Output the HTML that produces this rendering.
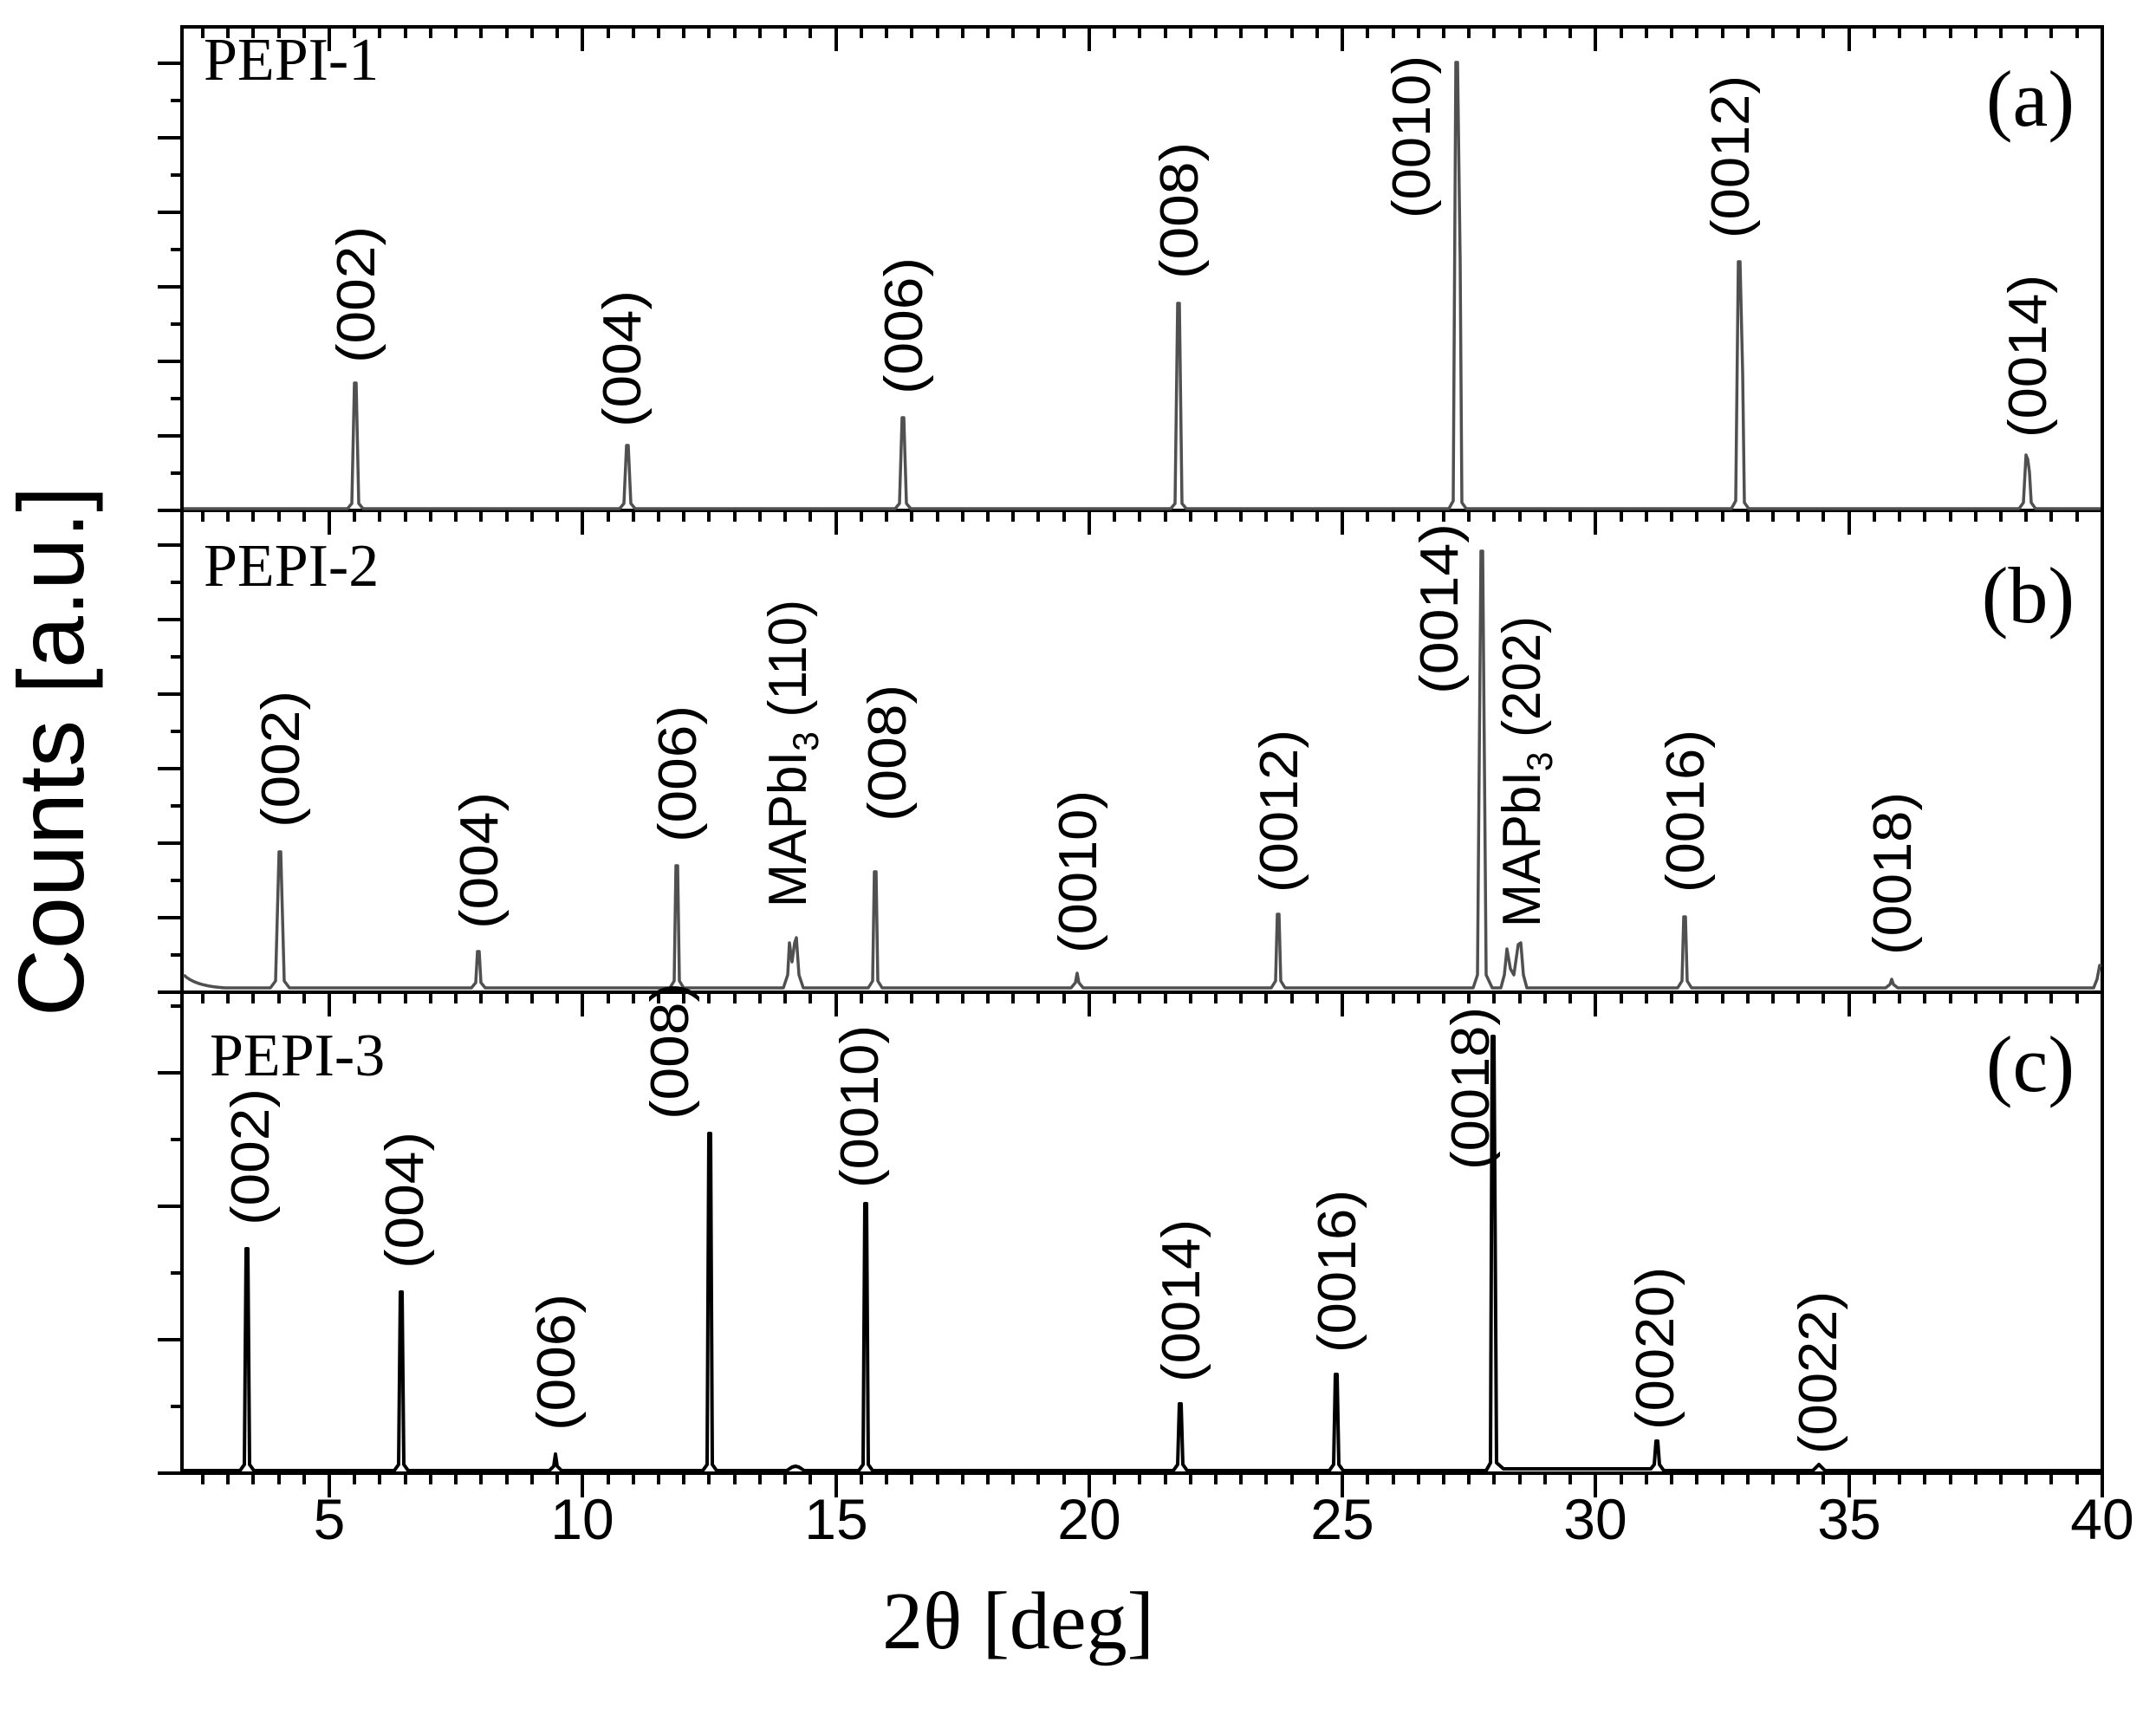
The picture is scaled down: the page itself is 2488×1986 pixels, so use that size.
<!DOCTYPE html>
<html><head><meta charset="utf-8"><style>
html,body{margin:0;padding:0;background:#fff}
svg{display:block}
.t{font-family:"Liberation Sans",Arial,sans-serif}
.s{font-family:"Liberation Serif","Times New Roman",serif}
</style></head><body>
<svg width="2488" height="1986" viewBox="0 0 2488 1986" xmlns="http://www.w3.org/2000/svg">
<rect width="2488" height="1986" fill="#fff"/>
<g stroke="#000" stroke-width="4" fill="none">
<rect x="210" y="31" width="2216" height="1669"/>
<line x1="210" y1="589" x2="2426" y2="589"/>
<line x1="210" y1="1145" x2="2426" y2="1145"/>
</g>
<g stroke="#000" stroke-width="4">
<path d="
M234,31v13M263,31v13M292,31v13M322,31v13M351,31v13M380,31v28M409,31v13M438,31v13M468,31v13M497,31v13M526,31v13M555,31v13M585,31v13M614,31v13M643,31v13M672,31v28M702,31v13M731,31v13M760,31v13M789,31v13M818,31v13M848,31v13M877,31v13M906,31v13M935,31v13M965,31v28M994,31v13M1023,31v13M1052,31v13M1082,31v13M1111,31v13M1140,31v13M1169,31v13M1198,31v13M1228,31v13M1257,31v28M1286,31v13M1315,31v13M1345,31v13M1374,31v13M1403,31v13M1432,31v13M1461,31v13M1491,31v13M1520,31v13M1549,31v28M1578,31v13M1608,31v13M1637,31v13M1666,31v13M1695,31v13M1724,31v13M1754,31v13M1783,31v13M1812,31v13M1841,31v28M1871,31v13M1900,31v13M1929,31v13M1958,31v13M1988,31v13M2017,31v13M2046,31v13M2075,31v13M2104,31v13M2134,31v28M2163,31v13M2192,31v13M2221,31v13M2251,31v13M2280,31v13M2309,31v13M2338,31v13M2367,31v13M2397,31v13
"/>
<path transform="translate(0,558)" d="
M234,31v13M263,31v13M292,31v13M322,31v13M351,31v13M380,31v28M409,31v13M438,31v13M468,31v13M497,31v13M526,31v13M555,31v13M585,31v13M614,31v13M643,31v13M672,31v28M702,31v13M731,31v13M760,31v13M789,31v13M818,31v13M848,31v13M877,31v13M906,31v13M935,31v13M965,31v28M994,31v13M1023,31v13M1052,31v13M1082,31v13M1111,31v13M1140,31v13M1169,31v13M1198,31v13M1228,31v13M1257,31v28M1286,31v13M1315,31v13M1345,31v13M1374,31v13M1403,31v13M1432,31v13M1461,31v13M1491,31v13M1520,31v13M1549,31v28M1578,31v13M1608,31v13M1637,31v13M1666,31v13M1695,31v13M1724,31v13M1754,31v13M1783,31v13M1812,31v13M1841,31v28M1871,31v13M1900,31v13M1929,31v13M1958,31v13M1988,31v13M2017,31v13M2046,31v13M2075,31v13M2104,31v13M2134,31v28M2163,31v13M2192,31v13M2221,31v13M2251,31v13M2280,31v13M2309,31v13M2338,31v13M2367,31v13M2397,31v13
"/>
<path transform="translate(0,1114)" d="
M234,31v13M263,31v13M292,31v13M322,31v13M351,31v13M380,31v28M409,31v13M438,31v13M468,31v13M497,31v13M526,31v13M555,31v13M585,31v13M614,31v13M643,31v13M672,31v28M702,31v13M731,31v13M760,31v13M789,31v13M818,31v13M848,31v13M877,31v13M906,31v13M935,31v13M965,31v28M994,31v13M1023,31v13M1052,31v13M1082,31v13M1111,31v13M1140,31v13M1169,31v13M1198,31v13M1228,31v13M1257,31v28M1286,31v13M1315,31v13M1345,31v13M1374,31v13M1403,31v13M1432,31v13M1461,31v13M1491,31v13M1520,31v13M1549,31v28M1578,31v13M1608,31v13M1637,31v13M1666,31v13M1695,31v13M1724,31v13M1754,31v13M1783,31v13M1812,31v13M1841,31v28M1871,31v13M1900,31v13M1929,31v13M1958,31v13M1988,31v13M2017,31v13M2046,31v13M2075,31v13M2104,31v13M2134,31v28M2163,31v13M2192,31v13M2221,31v13M2251,31v13M2280,31v13M2309,31v13M2338,31v13M2367,31v13M2397,31v13
"/>
<path transform="translate(0,1669)" d="
M234,31v13M263,31v13M292,31v13M322,31v13M351,31v13M380,31v28M409,31v13M438,31v13M468,31v13M497,31v13M526,31v13M555,31v13M585,31v13M614,31v13M643,31v13M672,31v28M702,31v13M731,31v13M760,31v13M789,31v13M818,31v13M848,31v13M877,31v13M906,31v13M935,31v13M965,31v28M994,31v13M1023,31v13M1052,31v13M1082,31v13M1111,31v13M1140,31v13M1169,31v13M1198,31v13M1228,31v13M1257,31v28M1286,31v13M1315,31v13M1345,31v13M1374,31v13M1403,31v13M1432,31v13M1461,31v13M1491,31v13M1520,31v13M1549,31v28M1578,31v13M1608,31v13M1637,31v13M1666,31v13M1695,31v13M1724,31v13M1754,31v13M1783,31v13M1812,31v13M1841,31v28M1871,31v13M1900,31v13M1929,31v13M1958,31v13M1988,31v13M2017,31v13M2046,31v13M2075,31v13M2104,31v13M2134,31v28M2163,31v13M2192,31v13M2221,31v13M2251,31v13M2280,31v13M2309,31v13M2338,31v13M2367,31v13M2397,31v13M2426,31v28
"/>
<path d="M210,73h-28M210,116h-13M210,159h-28M210,202h-13M210,245h-28M210,288h-13M210,331h-28M210,374h-13M210,417h-28M210,460h-13M210,503h-28M210,546h-13M210,589h-28"/>
<path d="M210,629h-28M210,672h-13M210,715h-28M210,758h-13M210,801h-28M210,844h-13M210,887h-28M210,930h-13M210,973h-28M210,1016h-13M210,1059h-28M210,1102h-13M210,1145h-28"/>
<path d="M210,1238h-28M210,1315h-13M210,1392h-28M210,1469h-13M210,1546h-28M210,1623h-13M210,1700h-28M210,1161h-13"/>
</g>
<g fill="none" stroke-linejoin="round">
<path stroke="#505050" stroke-width="3.5" d="M212,587 H401 L406,581 L409,442 L411,442 L414,581 L419,587 H715 L720,581 L723,514 L725,514 L728,581 L733,587 H1033 L1038,581 L1041,482 L1043,482 L1046,581 L1051,587 H1351 L1356,581 L1359,350 L1361,350 L1364,581 L1369,587 H1672 L1677,578 L1680,72 L1682,72 L1685,300 L1687,580 L1692,587 H1998 L2003,578 L2006,302 L2008,302 L2011,430 L2013,580 L2018,587 H2330 L2335,580 L2338,525 L2340,530 L2342,545 L2344,580 L2349,587 H2424"/>
<path stroke="#505050" stroke-width="3.5" d="M212,1125 Q225,1138 260,1140 H312 L318,1132 L322,983 L324,983 L328,1132 L334,1140 H544 L549,1134 L551,1098 L553,1098 L555,1134 L560,1140 H773 L778,1132 L780,999 L782,999 L784,1132 L789,1140 H904 L909,1125 L911,1088 L914,1110 L917,1088 L919,1082 L922,1125 L927,1140 H1002 L1007,1132 L1009,1006 L1011,1006 L1013,1132 L1018,1140 H1236 L1241,1134 L1243,1123 L1245,1134 L1250,1140 H1467 L1472,1132 L1474,1055 L1476,1055 L1478,1132 L1483,1140 H1700 L1705,1125 L1709,636 L1711,636 L1715,1125 L1722,1140 H1732 L1736,1125 L1739,1095 L1743,1118 L1747,1125 L1752,1090 L1755,1088 L1758,1125 L1762,1140 H1936 L1941,1132 L1943,1058 L1945,1058 L1947,1132 L1952,1140 H2176 L2181,1136 L2183,1130 L2185,1136 L2190,1140 H2416 L2420,1130 L2423,1114 L2425,1114"/>
<path stroke="#000" stroke-width="4" d="M212,1697 H277 L282,1690 L284,1441 L286,1441 L288,1690 L293,1697 H455 L460,1690 L462,1491 L464,1491 L466,1690 L471,1697 H634 L639,1692 L641,1678 L643,1692 L648,1697 H811 L816,1690 L818,1308 L820,1308 L822,1690 L827,1697 H908 L914,1693 L918,1692 L922,1693 L928,1697 H991 L996,1690 L998,1389 L1000,1389 L1002,1690 L1007,1697 H1354 L1359,1690 L1361,1620 L1363,1620 L1365,1690 L1370,1697 H1534 L1539,1690 L1541,1586 L1543,1586 L1545,1690 L1550,1697 H1715 L1720,1688 L1722,1196 L1724,1196 L1727,1688 L1735,1695 H1905 L1909,1690 L1911,1663 L1913,1663 L1915,1690 L1920,1697 H2092 L2097,1692 L2099,1690 L2101,1692 L2106,1697 H2424"/>
</g>
<g class="t" font-size="62" fill="#000">
<text transform="translate(432,419) rotate(-90)" textLength="158" lengthAdjust="spacingAndGlyphs">(002)</text>
<text transform="translate(739,493) rotate(-90)" textLength="158" lengthAdjust="spacingAndGlyphs">(004)</text>
<text transform="translate(1064,455) rotate(-90)" textLength="158" lengthAdjust="spacingAndGlyphs">(006)</text>
<text transform="translate(1382,322) rotate(-90)" textLength="158" lengthAdjust="spacingAndGlyphs">(008)</text>
<text transform="translate(1650,252) rotate(-90)" textLength="188" lengthAdjust="spacingAndGlyphs">(0010)</text>
<text transform="translate(2018,275) rotate(-90)" textLength="188" lengthAdjust="spacingAndGlyphs">(0012)</text>
<text transform="translate(2361,505) rotate(-90)" textLength="188" lengthAdjust="spacingAndGlyphs">(0014)</text>

<text transform="translate(345,955) rotate(-90)" textLength="158" lengthAdjust="spacingAndGlyphs">(002)</text>
<text transform="translate(574,1072) rotate(-90)" textLength="158" lengthAdjust="spacingAndGlyphs">(004)</text>
<text transform="translate(803,972) rotate(-90)" textLength="158" lengthAdjust="spacingAndGlyphs">(006)</text>
<text transform="translate(930,1047) rotate(-90)" textLength="355" lengthAdjust="spacingAndGlyphs">MAPbI<tspan font-size="42" dy="14">3</tspan><tspan dy="-14"> (110)</tspan></text>
<text transform="translate(1045,948) rotate(-90)" textLength="158" lengthAdjust="spacingAndGlyphs">(008)</text>
<text transform="translate(1265,1100) rotate(-90)" textLength="188" lengthAdjust="spacingAndGlyphs">(0010)</text>
<text transform="translate(1497,1030) rotate(-90)" textLength="188" lengthAdjust="spacingAndGlyphs">(0012)</text>
<text transform="translate(1682,801) rotate(-90)" textLength="197" lengthAdjust="spacingAndGlyphs">(0014)</text>
<text transform="translate(1777,1070) rotate(-90)" textLength="359" lengthAdjust="spacingAndGlyphs">MAPbI<tspan font-size="42" dy="14">3</tspan><tspan dy="-14"> (202)</tspan></text>
<text transform="translate(1966,1030) rotate(-90)" textLength="188" lengthAdjust="spacingAndGlyphs">(0016)</text>
<text transform="translate(2205,1102) rotate(-90)" textLength="188" lengthAdjust="spacingAndGlyphs">(0018)</text>

<text transform="translate(310,1414) rotate(-90)" textLength="158" lengthAdjust="spacingAndGlyphs">(002)</text>
<text transform="translate(488,1464) rotate(-90)" textLength="158" lengthAdjust="spacingAndGlyphs">(004)</text>
<text transform="translate(663,1651) rotate(-90)" textLength="158" lengthAdjust="spacingAndGlyphs">(006)</text>
<text transform="translate(794,1292) rotate(-90)" textLength="158" lengthAdjust="spacingAndGlyphs">(008)</text>
<text transform="translate(1013,1371) rotate(-90)" textLength="188" lengthAdjust="spacingAndGlyphs">(0010)</text>
<text transform="translate(1384,1595) rotate(-90)" textLength="188" lengthAdjust="spacingAndGlyphs">(0014)</text>
<text transform="translate(1564,1561) rotate(-90)" textLength="188" lengthAdjust="spacingAndGlyphs">(0016)</text>
<text transform="translate(1718,1350) rotate(-90)" textLength="188" lengthAdjust="spacingAndGlyphs">(0018)</text>
<text transform="translate(1931,1650) rotate(-90)" textLength="188" lengthAdjust="spacingAndGlyphs">(0020)</text>
<text transform="translate(2119,1678) rotate(-90)" textLength="188" lengthAdjust="spacingAndGlyphs">(0022)</text>
</g>
<g class="s" fill="#000">
<text x="235" y="92" font-size="70">PEPI-1</text>
<text x="235" y="676" font-size="70">PEPI-2</text>
<text x="242" y="1241" font-size="70">PEPI-3</text>
<text x="2394" y="145" font-size="92" text-anchor="end">(a)</text>
<text x="2394" y="718" font-size="92" text-anchor="end">(b)</text>
<text x="2394" y="1259" font-size="92" text-anchor="end">(c)</text>
<text x="1175" y="1902" font-size="94" text-anchor="middle">2θ [deg]</text>
</g>
<g class="t" font-size="66" fill="#000" text-anchor="middle">
<text x="380" y="1776">5</text>
<text x="672" y="1776">10</text>
<text x="965" y="1776">15</text>
<text x="1257" y="1776">20</text>
<text x="1549" y="1776">25</text>
<text x="1841" y="1776">30</text>
<text x="2134" y="1776">35</text>
<text x="2426" y="1776">40</text>
</g>
<text class="t" transform="translate(96,867) rotate(-90)" font-size="108" text-anchor="middle" fill="#000">Counts [a.u.]</text>
</svg>
</body></html>
